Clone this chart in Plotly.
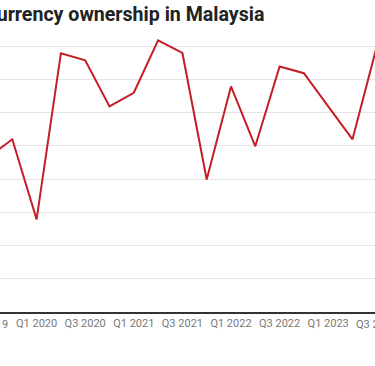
import plotly.graph_objects as go

# ---- data ----
quarters = ["Q3 2019", "Q4 2019", "Q1 2020", "Q2 2020", "Q3 2020", "Q4 2020",
            "Q1 2021", "Q2 2021", "Q3 2021", "Q4 2021", "Q1 2022", "Q2 2022",
            "Q3 2022", "Q4 2022", "Q1 2023", "Q2 2023", "Q3 2023"]
ownership = [4.65, 5.2, 2.79, 7.79, 7.58, 6.19, 6.6, 8.18, 7.8, 3.99, 6.79, 4.99,
             7.39, 7.19, 6.19, 5.2, 8.0]
tick_labels = ["Q3 2019", "Q1 2020", "Q3 2020", "Q1 2021", "Q3 2021",
               "Q1 2022", "Q3 2022", "Q1 2023", "Q3 2023"]
title_text = "Cryptocurrency ownership in Malaysia"

W, H = 375, 366
M_T, M_B = 36, 54
X_RANGE = [0.494, 15.926]
Y_RANGE = [0, 8.31]

def xpaper(label):
    i = quarters.index(label)
    return (i - X_RANGE[0]) / (X_RANGE[1] - X_RANGE[0])

fig = go.Figure()
fig.add_trace(go.Scatter(x=quarters, y=ownership, mode="lines",
                         line=dict(color="#c41e26", width=2), hoverinfo="skip"))

vis_ticks = [t for t in tick_labels if 0 <= xpaper(t) <= 1]
partial_ticks = [t for t in tick_labels if not (0 <= xpaper(t) <= 1)]

annotations = [dict(text="<b>" + title_text + "</b>", xref="paper", yref="paper",
                    x=-74 / W, y=1 + (M_T - 14) / (H - M_T - M_B),
                    xanchor="left", yanchor="middle", showarrow=False,
                    font=dict(family="Roboto", size=19.6, color="#222222"))]
for t in partial_ticks:
    annotations.append(dict(text=t, xref="paper", yref="paper", x=xpaper(t), y=0,
                            xanchor="center", yanchor="top", yshift=-4, showarrow=False,
                            font=dict(family="Roboto", size=11, color="#777777")))

fig.update_layout(
    width=W, height=H,
    margin=dict(l=0, r=0, t=M_T, b=M_B, pad=0),
    paper_bgcolor="white", plot_bgcolor="white",
    showlegend=False,
    font=dict(family="Roboto", size=11, color="#777777"),
    xaxis=dict(type="category", range=X_RANGE, tickmode="array",
               tickvals=vis_ticks, ticktext=vis_ticks, showgrid=False,
               showline=True, linecolor="#333333", linewidth=2, ticks="",
               tickfont=dict(family="Roboto", size=11, color="#777777"), zeroline=False),
    yaxis=dict(range=Y_RANGE, dtick=1, tick0=0, showgrid=True, gridcolor="#e5e5e5",
               gridwidth=1, showticklabels=False, zeroline=False, showline=False),
    annotations=annotations,
)

fig.write_html("out.html", config={"displayModeBar": False},
               post_script="document.body.style.margin='0';document.body.style.overflow='hidden';")
